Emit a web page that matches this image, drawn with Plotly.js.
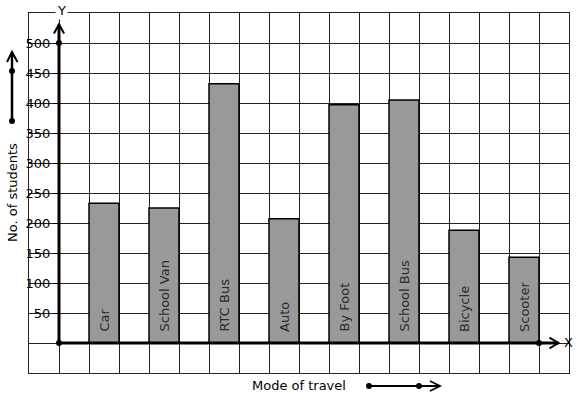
<!DOCTYPE html>
<html>
<head>
<meta charset="utf-8">
<script src="https://cdn.plot.ly/plotly-3.0.1.min.js"></script>
<style>html,body{margin:0;padding:0;background:#fff;}#chart{width:577px;height:399px;}</style>
</head>
<body>
<div id="chart"></div>
<script>
// Data
const modes = ["Car", "School Van", "RTC Bus", "Auto", "By Foot", "School Bus", "Bicycle", "Scooter"];
const students = [233, 225, 432, 207, 397, 405, 188, 143];
const barPositions = [1.5, 3.5, 5.5, 7.5, 9.5, 11.5, 13.5, 15.5];
const yTickVals = [50, 100, 150, 200, 250, 300, 350, 400, 450, 500];
const yTickText = ["50", "100", "150", "200", "250", "300", "350", "400", "450", "500"];

// Layout geometry (pixels)
const W = 577, H = 399;
const M = {l: 29, r: 8, t: 13, b: 26};
const PW = W - M.l - M.r, PH = H - M.t - M.b;
const px = x => (x - M.l) / PW;          // pixel x -> paper x
const py = y => (H - M.b - y) / PH;      // pixel y -> paper y

const font = "DejaVu Sans, Verdana, sans-serif";

const bars = {
  type: "bar",
  x: barPositions,
  y: students,
  width: 1,
  marker: {color: "#999999", line: {color: "#000", width: 1.5}},
  hoverinfo: "skip",
  xaxis: "x", yaxis: "y"
};

const dots = {
  type: "scatter", mode: "markers",
  x: [0, 0, 16], y: [0, 500, 0],
  marker: {color: "#000", size: 6},
  cliponaxis: false, hoverinfo: "skip",
  xaxis: "x", yaxis: "y"
};

const shapes = [
  {type: "line", xref: "x", yref: "y", x0: 0, y0: 0, x1: 0, y1: 531, line: {color: "#000", width: 3}},
  {type: "path", xref: "x", yref: "y", path: "M -0.17,516 L 0,531 L 0.17,516", line: {color: "#000", width: 2}},
  {type: "line", xref: "x", yref: "y", x0: 0, y0: 0, x1: 16.65, y1: 0, line: {color: "#000", width: 3}},
  {type: "path", xref: "x", yref: "y", path: "M 16.35,9 L 16.65,0 L 16.35,-9", line: {color: "#000", width: 2}},
  {type: "line", xref: "paper", yref: "paper", x0: px(12), y0: py(121), x1: px(12), y1: py(52), line: {color: "#000", width: 2.5}},
  {type: "path", xref: "paper", yref: "paper",
    path: `M ${px(7)},${py(62)} L ${px(12)},${py(52)} L ${px(17.5)},${py(62)}`, line: {color: "#000", width: 2}},
  {type: "circle", xref: "paper", yref: "paper", x0: px(9), y0: py(68), x1: px(15), y1: py(74), fillcolor: "#000", line: {width: 0}},
  {type: "circle", xref: "paper", yref: "paper", x0: px(9), y0: py(118), x1: px(15), y1: py(124), fillcolor: "#000", line: {width: 0}},
  {type: "line", xref: "paper", yref: "paper", x0: px(369), y0: py(386), x1: px(440), y1: py(386), line: {color: "#000", width: 2}},
  {type: "path", xref: "paper", yref: "paper",
    path: `M ${px(430)},${py(381)} L ${px(440)},${py(386)} L ${px(430)},${py(391)}`, line: {color: "#000", width: 1.8}},
  {type: "circle", xref: "paper", yref: "paper", x0: px(366), y0: py(383), x1: px(372), y1: py(389), fillcolor: "#000", line: {width: 0}},
  {type: "circle", xref: "paper", yref: "paper", x0: px(416), y0: py(383), x1: px(422), y1: py(389), fillcolor: "#000", line: {width: 0}}
];

const annotations = [
  {text: "No. of students", xref: "paper", yref: "paper", x: px(12), y: py(193), textangle: -90, showarrow: false,
    font: {family: font, size: 13, color: "#000"}, xanchor: "center", yanchor: "middle"},
  {text: "Mode of travel", xref: "paper", yref: "paper", x: px(299), y: py(385), showarrow: false,
    font: {family: font, size: 13, color: "#000"}, xanchor: "center", yanchor: "middle"},
  {text: "Y", xref: "paper", yref: "paper", x: px(61), y: py(10), showarrow: false,
    font: {family: font, size: 13, color: "#000"}, xanchor: "center", yanchor: "middle", bgcolor: "#fff"},
  {text: "X", xref: "paper", yref: "paper", x: px(568), y: py(342), showarrow: false,
    font: {family: font, size: 13, color: "#000"}, xanchor: "center", yanchor: "middle"}
].concat(modes.map((m, i) => ({
  text: m, xref: "x", yref: "y", x: barPositions[i], y: 0, yshift: 9,
  textangle: -90, showarrow: false, xanchor: "center", yanchor: "bottom",
  font: {family: font, size: 13, color: "#2a2a2a"}
})));

const layout = {
  width: W, height: H,
  margin: M,
  paper_bgcolor: "#fff", plot_bgcolor: "#fff",
  showlegend: false,
  bargap: 0,
  xaxis: {range: [-1, 17], dtick: 1, tick0: 0, showgrid: true, gridcolor: "#222", gridwidth: 1,
    showticklabels: false, ticks: "", zeroline: false, showline: true, mirror: true, linecolor: "#222", linewidth: 1, fixedrange: true},
  yaxis: {range: [-50, 550], dtick: 50, tick0: 0, showgrid: true, gridcolor: "#222", gridwidth: 1,
    showticklabels: false, ticks: "", zeroline: false, showline: true, mirror: true, linecolor: "#222", linewidth: 1, fixedrange: true},
  yaxis2: {range: [-50, 550], overlaying: "y", anchor: "free", position: 1 / 18, side: "left",
    tickvals: yTickVals, ticktext: yTickText, ticks: "outside", ticklen: 6, tickcolor: "#000", tickwidth: 1,
    showgrid: false, zeroline: false, showline: false, tickfont: {family: font, size: 13, color: "#000"}, fixedrange: true},
  shapes: shapes,
  annotations: annotations
};

const labelTrace = {type: "scatter", mode: "markers", x: [0], y: [0], yaxis: "y2", xaxis: "x",
  marker: {opacity: 0}, hoverinfo: "skip"};

Plotly.newPlot("chart", [bars, dots, labelTrace], layout, {staticPlot: true, displayModeBar: false});
</script>
</body>
</html>
